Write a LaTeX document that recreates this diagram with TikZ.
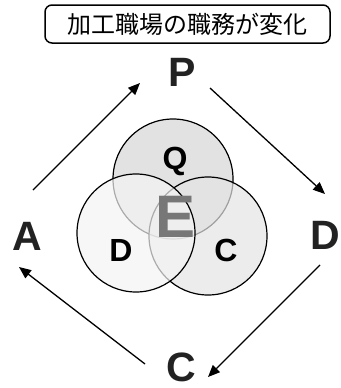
\documentclass[tikz,border=0pt]{standalone}
\usepackage{fontspec}
\setmainfont{Liberation Sans}
\newfontfamily\cjk{Noto Sans CJK JP}
\usetikzlibrary{arrows.meta}
\definecolor{qfill}{HTML}{E2E2E2}
\definecolor{cfill}{HTML}{E4E4E4}
\definecolor{dfill}{HTML}{F4F4F4}
\definecolor{outer}{HTML}{222222}
\definecolor{egray}{HTML}{777777}
\begin{document}
\begin{tikzpicture}[x=1pt,y=-1pt,
  big/.style={inner sep=0pt,text=outer,font=\fontsize{41}{41}\selectfont\bfseries},
  inner/.style={inner sep=0pt,text=black,font=\fontsize{32}{32}\selectfont\bfseries},
  arr/.style={line width=1.3pt,-{Triangle[length=12pt,width=10pt]}},
  ring/.style={draw=black,line width=1.2pt}]
\useasboundingbox (0,0) rectangle (340,388);
% title
\node[draw=black,line width=1.5pt,rounded corners=7pt,minimum width=285pt,minimum height=38pt,inner sep=0pt,
  font=\cjk\fontsize{24}{24}\selectfont] (title) at (187.5,24) {加工職場の職務が変化};
% outer letters
\node[big] (P) at (182,72) {P};
\node[big] (Dr) at (325,235) {D};
\node[big] (Cb) at (181,367) {C};
\node[big] (A) at (27,236) {A};
% arrow end points
\coordinate (a1) at (33,190); \coordinate (a2) at (140,83);
\coordinate (b1) at (210,88); \coordinate (b2) at (325,194);
\coordinate (c1) at (320,265); \coordinate (c2) at (208,377);
\coordinate (d1) at (145,364); \coordinate (d2) at (19,267);
\draw[arr] (a1) -- (a2);
\draw[arr] (b1) -- (b2);
\draw[arr] (c1) -- (c2);
\draw[arr] (d1) -- (d2);
% circles
\path[ring,fill=qfill] (173,179) circle[radius=60] coordinate (q);
\path[ring,fill=cfill,fill opacity=0.7] (208,236) circle[radius=59] coordinate (c);
\path[ring,fill=dfill,fill opacity=0.7] (136,233) circle[radius=59] coordinate (d);
% inner letters
\node[inner] (Q) at (175,161) {Q};
\node[inner] (Di) at (121,250) {D};
\node[inner] (Ci) at (226,250) {C};
\node[inner sep=0pt,text=egray,font=\fontsize{60}{60}\selectfont\bfseries] (E) at (176,217) {E};
\end{tikzpicture}
\end{document}
